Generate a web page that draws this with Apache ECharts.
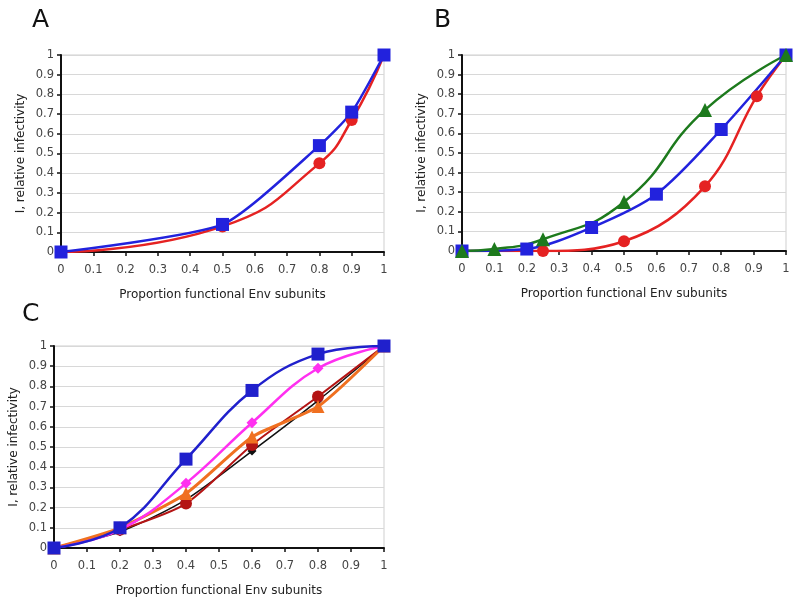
<!DOCTYPE html>
<html>
<head>
<meta charset="utf-8">
<script src="https://cdn.jsdelivr.net/npm/echarts@6/dist/echarts.min.js"></script>
<style>
  html, body { margin: 0; padding: 0; background: #fff; }
  #chart { width: 800px; height: 606px; }
</style>
</head>
<body>
<div id="chart"></div>
<script>
// Panel A
var aRedX = [0, 0.5, 0.8, 0.9, 1];
var aRedY = [0, 0.13, 0.45, 0.67, 1];
var aBlueX = [0, 0.5, 0.8, 0.9, 1];
var aBlueY = [0, 0.14, 0.54, 0.71, 1];

// Panel B
var bRedX = [0, 0.25, 0.5, 0.75, 0.91, 1];
var bRedY = [0, 0, 0.05, 0.33, 0.79, 1];
var bBlueX = [0, 0.2, 0.4, 0.6, 0.8, 1];
var bBlueY = [0, 0.01, 0.12, 0.29, 0.62, 1];
var bGreenX = [0, 0.1, 0.25, 0.5, 0.75, 1];
var bGreenY = [0, 0.01, 0.06, 0.25, 0.72, 1];

// Panel C
var cX = [0, 0.2, 0.4, 0.6, 0.8, 1];
var cBlackY = [0, 0.08, 0.24, 0.48, 0.73, 1];
var cDarkRedY = [0, 0.09, 0.22, 0.51, 0.75, 1];
var cOrangeY = [0, 0.1, 0.27, 0.55, 0.7, 1];
var cMagentaY = [0, 0.09, 0.32, 0.62, 0.89, 1];
var cBlueY = [0, 0.1, 0.44, 0.78, 0.96, 1];

var panelLetters = ['A', 'B', 'C'];
var xTitle = 'Proportion functional Env subunits';
var yTitle = 'I, relative infectivity';

function pts(xs, ys) {
    return xs.map(function (x, i) { return [x, ys[i]]; });
}

var chart = echarts.init(document.getElementById('chart'));

var grids = [
    { left: 61, width: 323, top: 55, height: 197 },
    { left: 462, width: 324, top: 55, height: 196 },
    { left: 54, width: 330, top: 346, height: 202 }
];

var xAxes = grids.map(function (g, i) {
    return {
        type: 'value', gridIndex: i, min: 0, max: 1, interval: 0.1,
        name: xTitle, nameLocation: 'middle', nameGap: 37,
        nameTextStyle: { fontFamily: 'DejaVu Sans', fontSize: 12, color: '#222' },
        axisLine: { lineStyle: { color: '#111', width: 2 } },
        axisTick: { show: true, length: 4, lineStyle: { color: '#111', width: 1.5 } },
        axisLabel: { fontFamily: 'DejaVu Sans', fontSize: 11.5, color: '#444', margin: 12 },
        splitLine: { show: false }
    };
});

var yAxes = grids.map(function (g, i) {
    return {
        type: 'value', gridIndex: i, min: 0, max: 1, interval: 0.1,
        name: yTitle, nameLocation: 'middle', nameGap: 34, nameRotate: 90,
        nameTextStyle: { fontFamily: 'DejaVu Sans', fontSize: 12, color: '#222' },
        axisLine: { show: true, lineStyle: { color: '#111', width: 2 } },
        axisTick: { show: true, length: 4, lineStyle: { color: '#111', width: 1.5 } },
        axisLabel: { fontFamily: 'DejaVu Sans', fontSize: 11.5, color: '#444', margin: 7 },
        splitLine: { show: true, lineStyle: { color: '#d8d8d8', width: 1 } }
    };
});

function line(idx, data, color, symbol, size, width, smooth) {
    return {
        type: 'line', xAxisIndex: idx, yAxisIndex: idx,
        data: data, smooth: smooth,
        symbol: symbol, symbolSize: size, showSymbol: true,
        itemStyle: { color: color },
        lineStyle: { color: color, width: width },
        animation: false
    };
}

var series = [
    line(0, pts(aRedX, aRedY), '#e52222', 'circle', 12, 2.5, 0.5),
    line(0, pts(aBlueX, aBlueY), '#2222dd', 'rect', 13, 2.5, 0.2),

    line(1, pts(bRedX, bRedY), '#e52222', 'circle', 12, 2.5, 0.4),
    line(1, pts(bBlueX, bBlueY), '#2222dd', 'rect', 13, 2.5, 0.3),
    line(1, pts(bGreenX, bGreenY), '#1d7a1d', 'triangle', 14, 2.5, 0.5),

    line(2, pts(cX, cBlackY), '#111111', 'diamond', 9, 1.5, 0.25),
    line(2, pts(cX, cDarkRedY), '#b41414', 'circle', 12, 2, 0.25),
    line(2, pts(cX, cOrangeY), '#f07020', 'triangle', 13, 3, 0.2),
    line(2, pts(cX, cMagentaY), '#ff30f0', 'diamond', 11, 2.5, 0.4),
    line(2, pts(cX, cBlueY), '#2020cc', 'rect', 13, 2.5, 0.4)
];

var letterPos = [[32, 8], [434, 8], [22, 302]];
var graphics = panelLetters.map(function (t, i) {
    return {
        type: 'text', left: letterPos[i][0], top: letterPos[i][1],
        style: { text: t, fontFamily: 'DejaVu Sans', fontSize: 25, fill: '#111' }
    };
});

chart.setOption({
    animation: false,
    grid: grids.map(function (g) {
        return Object.assign({ show: true, borderColor: '#cfcfcf', borderWidth: 1, backgroundColor: 'transparent' }, g);
    }),
    xAxis: xAxes,
    yAxis: yAxes,
    series: series,
    graphic: graphics
});
</script>
</body>
</html>
